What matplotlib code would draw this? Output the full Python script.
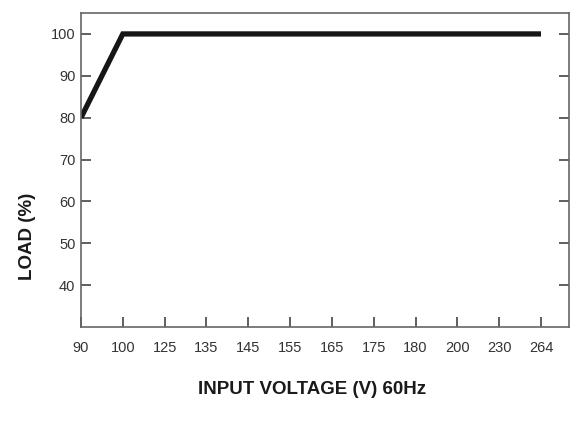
import matplotlib; matplotlib.use("Agg")
import matplotlib.pyplot as plt

VOLTS = ["90", "100", "125", "135", "145", "155", "165", "175", "180", "200", "230", "264"]
CURVE_V = ["90", "100", "264"]
CURVE_LOAD = [80, 100, 100]
Y_TICKS = [40, 50, 60, 70, 80, 90, 100]

plt.rcParams["font.family"] = ["Liberation Sans", "DejaVu Sans"]
fig = plt.figure(figsize=(5.83, 4.26), dpi=100)
ax = fig.add_axes([81/583, 1-327/426, (569-81)/583, (327-13)/426])

xs = [VOLTS.index(v) for v in CURVE_V]
ax.plot(xs, CURVE_LOAD, color="#161616", lw=3.8, solid_capstyle="butt", solid_joinstyle="miter")

ax.set_xlim(0, 11.67)
ax.set_ylim(30, 105)
ax.set_xticks(range(len(VOLTS)))
ax.set_xticklabels(VOLTS)
ax.set_yticks(Y_TICKS)
for s in ax.spines.values():
    s.set_color("#666666"); s.set_linewidth(1.2)
ax.tick_params(axis="x", direction="in", length=7, width=1.2, color="#444444",
               labelsize=10.5, labelcolor="#333333", pad=10)
ax.tick_params(axis="y", direction="in", length=7, width=1.2, color="#444444",
               labelsize=10.5, labelcolor="#333333", pad=4, right=True)

fig.text(312/583, 1-390/426, "INPUT VOLTAGE (V) 60Hz", ha="center", va="center",
         fontsize=13.5, fontweight="bold", color="#1a1a1a")
fig.text(28/583, 1-236/426, "LOAD (%)", ha="center", va="center", rotation=90,
         fontsize=13.5, fontweight="bold", color="#1a1a1a")

fig.savefig("out.png", dpi=100)
